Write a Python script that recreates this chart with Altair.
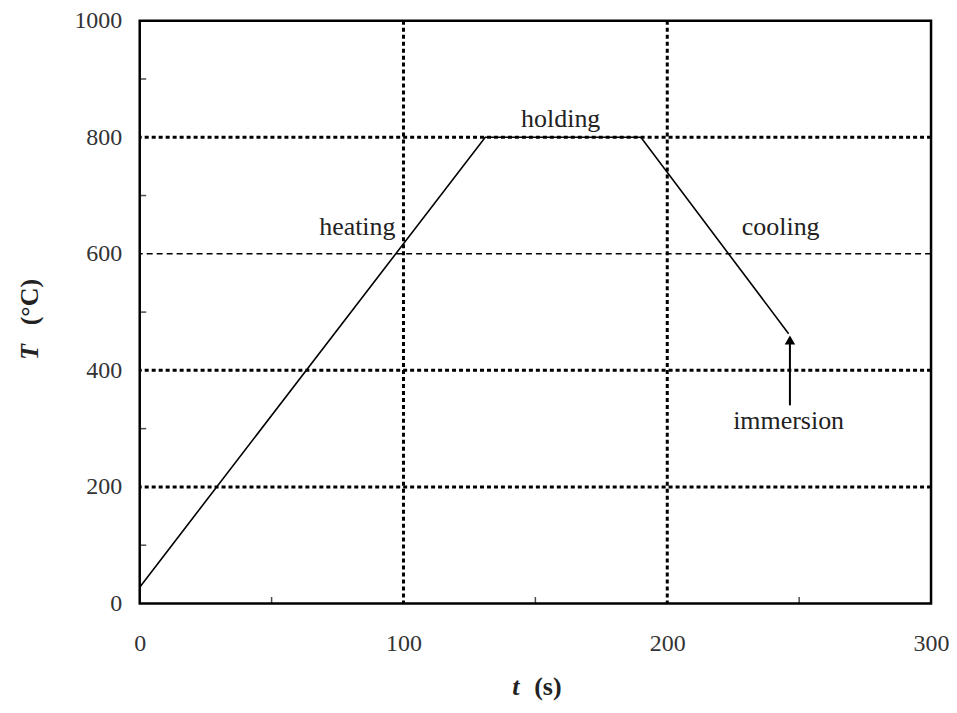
import altair as alt
import pandas as pd

# profile
t_vals = [0, 131, 190, 246]
T_vals = [28, 800, 800, 463]

hgrid = [200, 400, 600, 800]
hgrid_w = [3, 3, 1.5, 3]
vgrid = [100, 200]
x_minor = [50, 150, 250]
y_minor = [100, 300, 500, 700, 900]

labels = ["heating", "holding", "cooling", "immersion"]
lab_t = [82.5, 159.6, 243, 246]
lab_T = [646, 832, 646, 313]

arrow_t = [246.5]
arrow_from = [340]
arrow_to = [452]

FONT = "Liberation Serif"
xs = alt.Scale(domain=[0, 300], nice=False)
ys = alt.Scale(domain=[0, 1000], nice=False)

line_df = pd.DataFrame({"t": t_vals, "T": T_vals})
hg_df = pd.DataFrame({"T": hgrid, "w": hgrid_w})
vg_df = pd.DataFrame({"t": vgrid})
lab_df = pd.DataFrame({"label": labels, "t": lab_t, "T": lab_T})
arr_df = pd.DataFrame({"t": arrow_t, "T": arrow_from, "T2": arrow_to})
xm_df = pd.DataFrame({"t": x_minor})
ym_df = pd.DataFrame({"T": y_minor})

base_x = alt.X("t:Q", scale=xs, axis=alt.Axis(values=[0, 100, 200, 300], title=None, grid=False, format="d",
                                                 ticks=False, domain=False, labelFont=FONT, labelFlush=False,
                                                 labelFontSize=24, labelPadding=28, labelColor="#333"))
base_y = alt.Y("T:Q", scale=ys, axis=alt.Axis(values=[0, 200, 400, 600, 800, 1000], title=None, grid=False,
                                                 format="d", ticks=False, domain=False, labelFont=FONT,
                                                 labelFlush=False,
                                                 labelFontSize=24, labelPadding=18, labelColor="#333"))

line = alt.Chart(line_df).mark_line(color="black", strokeWidth=1.6).encode(x=base_x, y=base_y)

hg_thick = alt.Chart(hg_df[hg_df.w > 2]).mark_rule(color="black", strokeWidth=3, strokeDash=[4, 3]).encode(
    y=alt.Y("T:Q", scale=ys))
hg_thin = alt.Chart(hg_df[hg_df.w < 2]).mark_rule(color="black", strokeWidth=1.4, strokeDash=[6, 4]).encode(
    y=alt.Y("T:Q", scale=ys))
vg = alt.Chart(vg_df).mark_rule(color="black", strokeWidth=3, strokeDash=[4, 3]).encode(
    x=alt.X("t:Q", scale=xs))

xm = alt.Chart(xm_df).mark_tick(color="black", thickness=1.5, size=7, orient="vertical").encode(
    x=alt.X("t:Q", scale=xs), y=alt.value(581))
ym = alt.Chart(ym_df).mark_tick(color="black", thickness=1.5, size=7, orient="horizontal").encode(
    y=alt.Y("T:Q", scale=ys), x=alt.value(3))

text = alt.Chart(lab_df).mark_text(font=FONT, fontSize=26, color="#222").encode(
    x=alt.X("t:Q", scale=xs), y=alt.Y("T:Q", scale=ys), text="label:N")

arrow = alt.Chart(arr_df).mark_rule(color="black", strokeWidth=2).encode(
    x=alt.X("t:Q", scale=xs), y=alt.Y("T:Q", scale=ys), y2="T2:Q")
head = alt.Chart(arr_df).mark_point(shape="triangle-up", filled=True, color="black", size=110, opacity=1).encode(
    x=alt.X("t:Q", scale=xs), y=alt.Y("T2:Q", scale=ys))

ytitle_T = alt.Chart(pd.DataFrame({"s": ["T"]})).mark_text(
    font=FONT, fontSize=26, fontStyle="italic", fontWeight="bold", angle=270, color="#222").encode(
    text="s:N", x=alt.value(-110), y=alt.value(332))
ytitle_u = alt.Chart(pd.DataFrame({"s": ["(°C)"]})).mark_text(
    font=FONT, fontSize=26, fontWeight="bold", angle=270, color="#222").encode(
    text="s:N", x=alt.value(-110), y=alt.value(282))
xtitle_t = alt.Chart(pd.DataFrame({"s": ["t"]})).mark_text(
    font=FONT, fontSize=26, fontStyle="italic", fontWeight="bold", color="#222").encode(
    text="s:N", x=alt.value(377), y=alt.value(668))
xtitle_u = alt.Chart(pd.DataFrame({"s": ["(s)"]})).mark_text(
    font=FONT, fontSize=26, fontWeight="bold", color="#222").encode(
    text="s:N", x=alt.value(409), y=alt.value(668))

chart = alt.layer(hg_thick, hg_thin, vg, line, xm, ym, text, arrow, head,
                  ytitle_T, ytitle_u, xtitle_t, xtitle_u).properties(
    width=793, height=584,
    autosize=alt.AutoSizeParams(type="none"),
    padding={"left": 132, "top": 12, "right": 18, "bottom": 98},
    background="white",
).configure_view(stroke="black", strokeWidth=2.5)

chart.save("out.html", embed_options={"renderer": "svg", "actions": False})
